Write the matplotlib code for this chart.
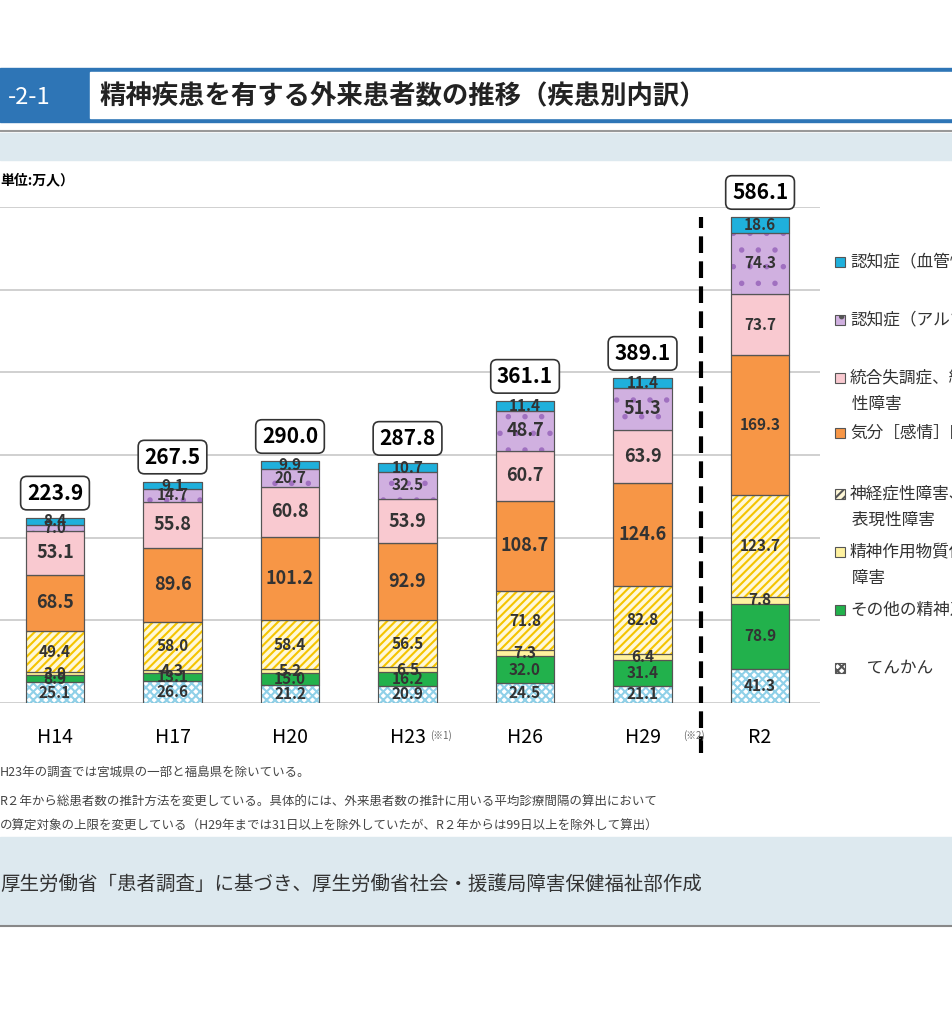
import matplotlib.pyplot as plt
from matplotlib.patches import Rectangle

plt.rcParams['font.family'] = ['Noto Sans CJK JP', 'DejaVu Sans']
plt.rcParams['hatch.linewidth'] = 1.5

years = ['H14', 'H17', 'H20', 'H23', 'H26', 'H29', 'R2']
totals = [223.9, 267.5, 290.0, 287.8, 361.1, 389.1, 586.1]
tenkan = [25.1, 26.6, 21.2, 20.9, 24.5, 21.1, 41.3]
sonota = [8.5, 9.4, 15.0, 16.2, 32.0, 31.4, 78.9]
busshitsu = [3.9, 4.3, 5.2, 6.5, 7.3, 6.4, 7.8]
shinkei = [49.4, 58.0, 58.4, 56.5, 71.8, 82.8, 123.7]
kibun = [68.5, 89.6, 101.2, 92.9, 108.7, 124.6, 169.3]
tougou = [53.1, 55.8, 60.8, 53.9, 60.7, 63.9, 73.7]
alz = [7.0, 14.7, 20.7, 32.5, 48.7, 51.3, 74.3]
kekkan = [8.4, 9.1, 9.9, 10.7, 11.4, 11.4, 18.6]
labels_sonota = ['8.9', '13.1', '15.0', '16.2', '32.0', '31.4', '78.9']
labels_buss = ['3.9', '4.3', '5.2', '6.5', '7.3', '6.4', '7.8']

series = [
    (tenkan, '#ffffff', '#8fd0e8', 'xxxx', 'てんかん'),
    (sonota, '#22b14c', None, None, 'その他の精神'),
    (busshitsu, '#fff2a0', '#f5c400', None, '精神作用物質使用'),
    (shinkei, '#fff8d8', '#f5c400', '////', '神経症性障害'),
    (kibun, '#f79646', None, None, '気分［感情］障害'),
    (tougou, '#f9c9d0', None, None, '統合失調症'),
    (alz, '#d0b0e0', '#a070c0', '.', '認知症（アルツハイマー病）'),
    (kekkan, '#1fb0dc', None, None, '認知症（血管性など）'),
]

W, H = 952, 1024
fig = plt.figure(figsize=(W / 100, H / 100), dpi=100)

def fy(p):
    return 1 - p / H

# background bands
fig.patches.append(Rectangle((0, fy(160)), 1, 27 / H, transform=fig.transFigure, color='#dde9ef', zorder=0))
fig.patches.append(Rectangle((0, fy(925)), 1, 88 / H, transform=fig.transFigure, color='#dde9ef', zorder=0))
fig.lines.append(plt.Line2D([0, 1], [fy(926), fy(926)], transform=fig.transFigure, color='#888888', lw=1.5))
fig.lines.append(plt.Line2D([0, 1], [fy(131), fy(131)], transform=fig.transFigure, color='#999999', lw=1.5))

# title bar
fig.patches.append(Rectangle((0, fy(122)), 1, 54 / H, transform=fig.transFigure, color='#2e75b6', zorder=1))
fig.patches.append(Rectangle((90 / W, fy(118)), 1, 46 / H, transform=fig.transFigure, color='white', zorder=2))
fig.text(8 / W, fy(97), '-2-1', color='white', fontsize=17, va='center', zorder=3)
fig.text(100 / W, fy(97), '精神疾患を有する外来患者数の推移（疾患別内訳）', fontsize=19,
         fontweight='bold', va='center', zorder=3, color='#222222')

fig.text(0, fy(180), '単位:万人）', fontsize=10, fontweight='bold', va='center')

ax = fig.add_axes([0, fy(703), 820 / W, (703 - 207) / H])
x = list(range(len(years)))
bottom = [0] * len(years)
for vals, fc, ec, hatch, name in series:
    ax.bar(x, vals, 0.5, bottom=bottom, color=fc, edgecolor=ec if ec else '#555555',
           hatch=hatch, linewidth=0.8, zorder=3)
    ax.bar(x, vals, 0.5, bottom=bottom, fill=False, edgecolor='#555555', linewidth=0.8, zorder=4)
    for i, v in enumerate(vals):
        if name == 'その他の精神':
            t = labels_sonota[i]
        elif name == '精神作用物質使用':
            t = labels_buss[i]
        else:
            t = f'{v:.1f}'
        big = v > 40
        ax.text(i, bottom[i] + v / 2, t, ha='center', va='center', zorder=5,
                fontsize=13 if (big and name != 'その他の精神' and i < 6 and name != '神経症性障害') else 11,
                fontweight='bold', color='#333333')
    bottom = [b + v for b, v in zip(bottom, vals)]

for i, t in enumerate(totals):
    ax.text(i, bottom[i] + 30, f'{t:.1f}', ha='center', va='center', fontsize=15, fontweight='bold',
            bbox=dict(boxstyle='round,pad=0.3', fc='white', ec='#333333', lw=1.2), zorder=6)

ax.set_xlim(-0.468, 6.51)
ax.set_ylim(0, 600)
ax.set_yticks([0, 100, 200, 300, 400, 500, 600])
ax.yaxis.grid(True, color='#c8c8c8', lw=1.2, zorder=0)
ax.tick_params(left=False, labelleft=False, bottom=False)
for s in ax.spines.values():
    s.set_visible(False)
ax.set_xticks(x)
ax.set_xticklabels(years, fontsize=14)
ax.tick_params(axis='x', pad=14)
ax.axvline(5.5, ymin=-0.1, ymax=0.98, color='black', lw=3, ls=(0, (4, 2)), clip_on=False, zorder=6)
fig.text(430 / W, fy(736), '(※1)', fontsize=7, color='#666666', va='center')
fig.text(683 / W, fy(736), '(※2)', fontsize=7, color='#666666', va='center')

# legend
leg = [
    (262, ['認知症（血管性など）'], 7),
    (320, ['認知症（アルツハイマー病）'], 6),
    (378, ['統合失調症、統合失調症型', '性障害'], 5),
    (433, ['気分［感情］障害'], 4),
    (494, ['神経症性障害、ストレス', '表現性障害'], 3),
    (552, ['精神作用物質使用による', '障害'], 2),
    (610, ['その他の精神及び行動の障害'], 1),
    (668, ['　てんかん'], 0),
]
for yp, lines, k in leg:
    _, fc, ec, hatch, _ = series[k]
    fig.patches.append(Rectangle((835 / W, fy(yp + 5)), 10 / W, 10 / H, transform=fig.transFigure,
                                 facecolor=fc, edgecolor='#555555', hatch=hatch, lw=0.8))
    for j, ln in enumerate(lines):
        fig.text((850 if j == 0 else 848) / W, fy(yp + j * 26), ('' if j == 0 else ' ') + ln,
                 fontsize=12, va='center', color='#333333')

fig.text(0, fy(772), 'H23年の調査では宮城県の一部と福島県を除いている。', fontsize=9, va='center', color='#444444')
fig.text(0, fy(802), 'R２年から総患者数の推計方法を変更している。具体的には、外来患者数の推計に用いる平均診療間隔の算出において',
         fontsize=9, va='center', color='#444444')
fig.text(0, fy(826), 'の算定対象の上限を変更している（H29年までは31日以上を除外していたが、R２年からは99日以上を除外して算出）',
         fontsize=9, va='center', color='#444444')
fig.text(0, fy(884), '厚生労働省「患者調査」に基づき、厚生労働省社会・援護局障害保健福祉部作成', fontsize=14,
         va='center', color='#333333')

fig.savefig('out.png', dpi=100)
